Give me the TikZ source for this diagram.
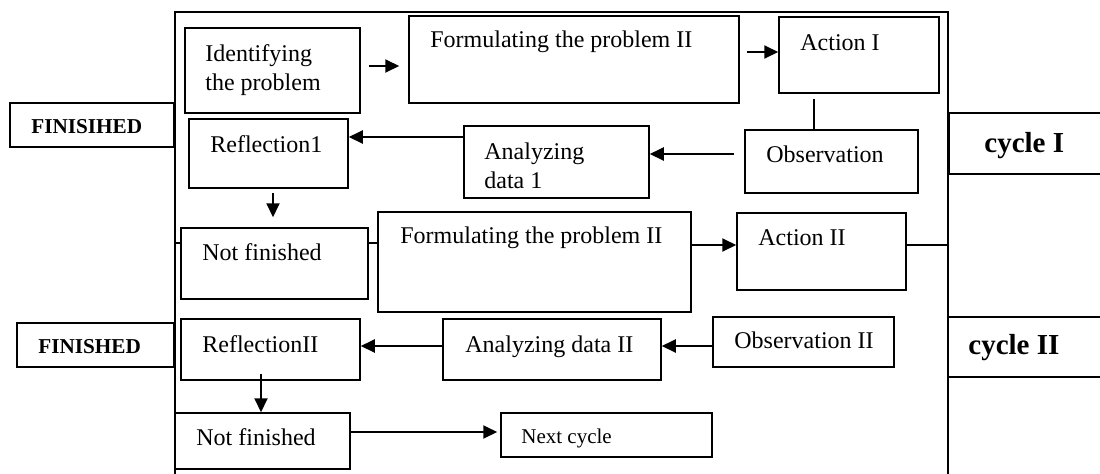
\documentclass[tikz,border=0pt]{standalone}
\usepackage{fontspec}
\setmainfont{Liberation Serif}
\usetikzlibrary{positioning,fit,arrows.meta}

\begin{document}
\begin{tikzpicture}[x=0.5pt,y=-0.5pt,
  box/.style={draw, line width=0.75pt, inner sep=0pt},
  txt/.style={anchor=base west, inner sep=0pt, align=left, font=\fontsize{12}{14.2}\selectfont},
  tag/.style={anchor=base west, inner sep=0pt, font=\bfseries\fontsize{10.6}{12}\selectfont},
  cyc/.style={anchor=base west, inner sep=0pt, font=\bfseries\fontsize{14.5}{16}\selectfont},
  arr/.style={-{Triangle[length=7pt,width=6.5pt]}, line width=1pt},
  link/.style={line width=0.75pt}]
\useasboundingbox (0,0) rectangle (1100,473);
\clip (0,0) rectangle (1100,473);
% outer frame
\draw[link] (175,480) -- (175,12) -- (948,12) -- (948,480);
\coordinate (fl) at (175,243);
\coordinate (fr) at (948,245);
% cycle I
\node[box, fit={(185,28) (360,113)}] (idp) {};
\node[txt] (idpt) at (205,90) {Identifying\\the problem};
\node[box, fit={(409,16) (739,103)}] (fp1) {};
\node[txt] (fp1t) at (430,47) {Formulating the problem II};
\node[box, fit={(779,17) (939,93)}] (act1) {};
\node[txt] (act1t) at (800,50) {Action I};
\node[box, fit={(745,130) (918,193)}] (obs1) {};
\node[txt] (obs1t) at (766,162) {Observation};
\node[box, fit={(464,126) (649,198)}] (ana1) {};
\node[txt] (ana1t) at (484,188) {Analyzing\\data 1};
\node[box, fit={(189,119) (348,188)}] (ref1) {};
\node[txt] (ref1t) at (210,152) {Reflection1};
\node[box, fit={(10,103) (174,147)}] (fin1) {};
\node[tag] (fin1t) at (31,133) {FINISIHED};
\node[box, fit={(949,113) (1110,174)}] (cyc1) {};
\node[cyc] (cyc1t) at (984,152) {cycle I};
% cycle II
\node[box, fit={(181,228) (368,299)}] (nf1) {};
\node[txt] (nf1t) at (202,260) {Not finished};
\node[box, fit={(378,212) (691,312)}] (fp2) {};
\node[txt] (fp2t) at (400,243) {Formulating the problem II};
\node[box, fit={(737,213) (906,290)}] (act2) {};
\node[txt] (act2t) at (758,245) {Action II};
\node[box, fit={(713,317) (894,367)}] (obs2) {};
\node[txt] (obs2t) at (734,348) {Observation II};
\node[box, fit={(443,319) (661,380)}] (ana2) {};
\node[txt] (ana2t) at (465,352) {Analyzing data II};
\node[box, fit={(181,319) (360,380)}] (ref2) {};
\node[txt] (ref2t) at (202,352) {ReflectionII};
\node[box, fit={(17,323) (174,367)}] (fin2) {};
\node[tag] (fin2t) at (38,353) {FINISHED};
\node[box, fit={(948,317) (1110,377)}] (cyc2) {};
\node[cyc] (cyc2t) at (968,354) {cycle II};
\node[box, fit={(175,413) (350,469)}] (nf2) {};
\node[txt] (nf2t) at (196,445) {Not finished};
\node[box, fit={(501,413) (712,457)}] (nxt) {};
\node[txt, font=\fontsize{10.5}{12}\selectfont] (nxtt) at (521,443) {Next cycle};
% connectors
\draw[arr, shorten <=4pt, shorten >=4.5pt] (idp.east |- 0,66) -- (fp1.west |- 0,66);
\draw[arr, shorten <=3.5pt] (fp1.east |- 0,52) -- (act1.west |- 0,52);
\draw[link, shorten <=2.5pt] (act1.south -| 814,0) -- (obs1.north -| 814,0);
\draw[arr, shorten <=5pt] (obs1.west |- 0,154) -- (ana1.east |- 0,154);
\draw[arr] (ana1.west |- 0,137) -- (ref1.east |- 0,137);
\draw[arr, shorten <=2pt, shorten >=5pt] (ref1.south -| 273,0) -- (nf1.north -| 273,0);
\draw[link] (fl) -- (nf1.west |- fl);
\draw[link] (nf1.east |- fl) -- (fp2.west |- fl);
\draw[arr] (fp2.east |- fr) -- (act2.west |- fr);
\draw[link] (act2.east |- fr) -- (fr);
\draw[arr] (obs2.west |- 0,346) -- (ana2.east |- 0,346);
\draw[arr] (ana2.west |- 0,346) -- (ref2.east |- 0,346);
\draw[arr, shorten <=-3.5pt] (ref2.south -| 261,0) -- (nf2.north -| 261,0);
\draw[arr, shorten >=1.5pt] (nf2.east |- 0,432) -- (nxt.west |- 0,432);
\end{tikzpicture}
\end{document}
